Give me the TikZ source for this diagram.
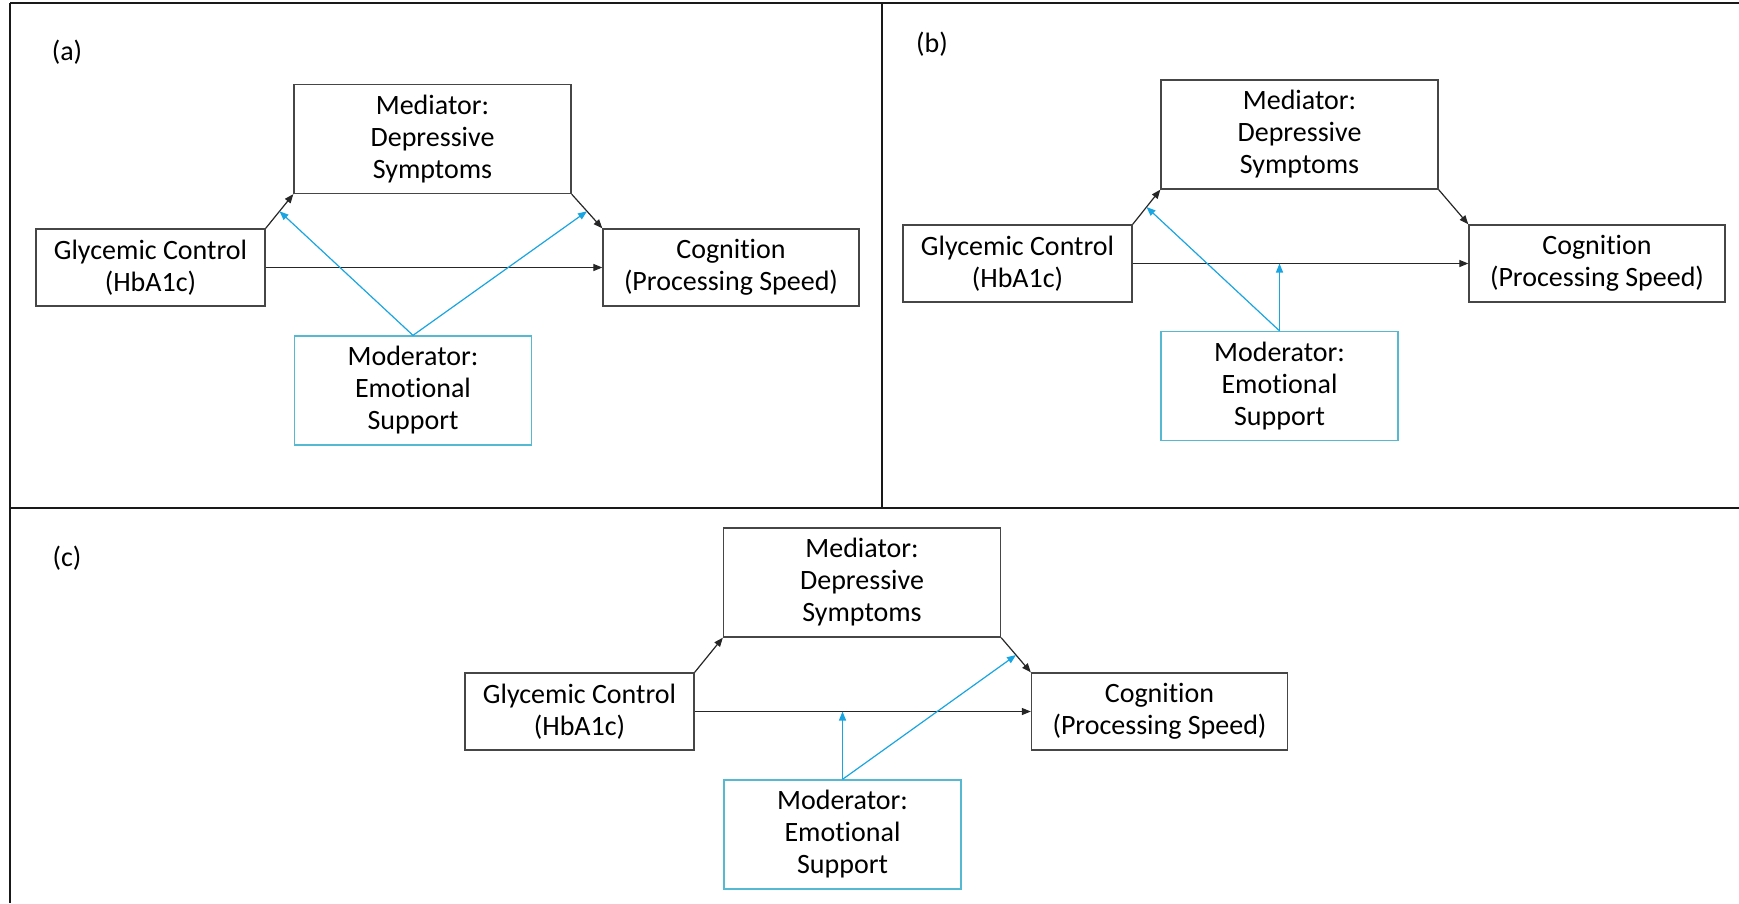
\documentclass[tikz,border=0pt]{standalone}
\usepackage{fontspec}
\setmainfont{Carlito}[Ligatures=CommonOff]
\usetikzlibrary{arrows.meta,calc}
\definecolor{boxline}{RGB}{70,70,70}
\definecolor{modline}{RGB}{85,185,210}
\definecolor{modarrow}{RGB}{25,165,225}
\begin{document}
\begin{tikzpicture}[x=1pt,y=-1pt,
  every node/.style={font=\fontsize{28}{32}\selectfont, align=center, inner sep=0pt},
  varbox/.style={draw=boxline, line width=1.3pt, rectangle},
  medbox/.style={varbox, minimum width=277pt, minimum height=109pt},
  glybox/.style={varbox, minimum width=229pt, minimum height=77pt},
  cogbox/.style={varbox, minimum width=256pt, minimum height=77pt},
  modbox/.style={draw=modline, line width=1.3pt, rectangle, minimum width=237pt, minimum height=109pt},
  path/.style={draw=black!85, line width=1.2pt, -{Triangle[length=9pt,width=7pt]}},
  modpath/.style={draw=modarrow, line width=1.2pt, -{Triangle[length=9pt,width=7pt]}},
  frame/.style={draw=black!90, line width=2.5pt}]
\useasboundingbox (0,0) rectangle (1739,903);

% panel frame lines
\draw[frame] (10,3) -- (1739,3);
\draw[frame] (10,3) -- (10,903);
\draw[frame] (882,3) -- (882,508);
\draw[frame] (10,508) -- (1739,508);

% ---------- (a) ----------
\node (la) at (67,52) {(a)};
\node[medbox] (medA) at (432.5,139) {Mediator:\\Depressive\\Symptoms};
\node[glybox] (glyA) at (150.5,267.5) {Glycemic Control\\(HbA1c)};
\node[cogbox] (cogA) at (731,267.5) {Cognition\\(Processing Speed)};
\node[modbox] (modA) at (413,390.5) {Moderator:\\Emotional\\Support};
\draw[path] (glyA.north east) -- (medA.south west);
\draw[path] (medA.south east) -- (cogA.north west);
\draw[path] (glyA.east) -- (cogA.west);
\coordinate (a1) at ($(glyA.north east)!0.5!(medA.south west)$);
\coordinate (a2) at ($(medA.south east)!0.5!(cogA.north west)$);
\draw[modpath] (modA.north) -- (a1);
\draw[modpath] (modA.north) -- (a2);

% ---------- (b) ----------
\node (lb) at (932,44) {(b)};
\node[medbox] (medB) at (1299.5,134.5) {Mediator:\\Depressive\\Symptoms};
\node[glybox] (glyB) at (1017.5,263.5) {Glycemic Control\\(HbA1c)};
\node[cogbox] (cogB) at (1597,263.5) {Cognition\\(Processing Speed)};
\node[modbox] (modB) at (1279.5,386) {Moderator:\\Emotional\\Support};
\draw[path] (glyB.north east) -- (medB.south west);
\draw[path] (medB.south east) -- (cogB.north west);
\draw[path] (glyB.east) -- (cogB.west);
\coordinate (b1) at ($(glyB.north east)!0.5!(medB.south west)$);
\coordinate (b2) at (modB.north |- glyB.east);
\draw[modpath] (modB.north) -- (b1);
\draw[modpath] (modB.north) -- (b2);

% ---------- (c) ----------
\node (lc) at (67,558) {(c)};
\node[medbox] (medC) at (862,582.5) {Mediator:\\Depressive\\Symptoms};
\node[glybox] (glyC) at (579.5,711.5) {Glycemic Control\\(HbA1c)};
\node[cogbox] (cogC) at (1159.5,711.5) {Cognition\\(Processing Speed)};
\node[modbox] (modC) at (842.5,834.5) {Moderator:\\Emotional\\Support};
\draw[path] (glyC.north east) -- (medC.south west);
\draw[path] (medC.south east) -- (cogC.north west);
\draw[path] (glyC.east) -- (cogC.west);
\coordinate (c1) at (modC.north |- glyC.east);
\coordinate (c2) at ($(medC.south east)!0.5!(cogC.north west)$);
\draw[modpath] (modC.north) -- (c1);
\draw[modpath] (modC.north) -- (c2);
\end{tikzpicture}
\end{document}
